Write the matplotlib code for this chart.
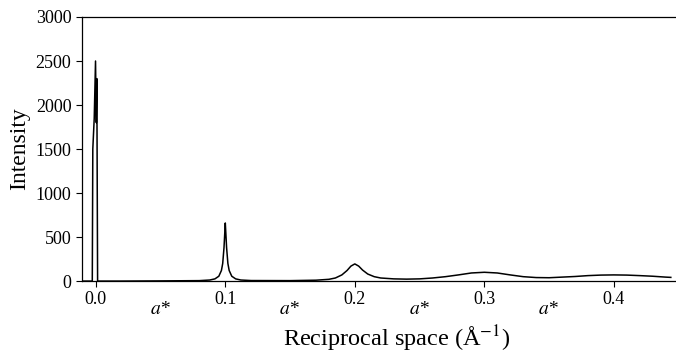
import matplotlib
matplotlib.use('Agg')
import matplotlib.pyplot as plt
import matplotlib.transforms as mtransforms

plt.rcParams['font.family'] = ['Liberation Serif', 'DejaVu Serif']
plt.rcParams['mathtext.fontset'] = 'stix'

# reciprocal space (1/A) and intensity
q = [-0.0108, -0.0027, -0.0023, -0.0012, -0.0002, 0.0004, 0.0008, 0.0014,
     0.020, 0.050, 0.080, 0.088, 0.092, 0.095, 0.097, 0.098, 0.099, 0.0995,
     0.100, 0.1005, 0.101, 0.102, 0.103, 0.105, 0.108, 0.112, 0.120, 0.150,
     0.170, 0.180, 0.185, 0.190, 0.194, 0.197, 0.200, 0.203, 0.206, 0.210,
     0.215, 0.220, 0.230, 0.240, 0.250, 0.260, 0.270, 0.280, 0.290, 0.300,
     0.310, 0.320, 0.330, 0.340, 0.350, 0.360, 0.370, 0.380, 0.390, 0.400,
     0.410, 0.420, 0.430, 0.440, 0.444]
intensity = [0, 0, 1500, 1850, 2500, 1800, 2300, 0,
             0, 2, 5, 12, 25, 55, 120, 200, 380, 520,
             660, 520, 380, 200, 120, 55, 25, 12, 6, 5,
             10, 20, 35, 70, 120, 170, 195, 170, 125, 80,
             50, 35, 25, 22, 25, 35, 50, 70, 92, 100,
             92, 70, 50, 40, 38, 45, 52, 62, 68, 70,
             68, 62, 55, 45, 42]

xticks = [0.0, 0.1, 0.2, 0.3, 0.4]
xticklabels = ['0.0', '0.1', '0.2', '0.3', '0.4']
yticks = [0, 500, 1000, 1500, 2000, 2500, 3000]
astar_pos = [0.05, 0.15, 0.25, 0.35]

fig = plt.figure(figsize=(6.76, 3.54), dpi=100)
ax = fig.add_axes([0.121, 0.206, 0.879, 0.746])
ax.plot(q, intensity, color='black', lw=1.1)

ax.set_xlim(-0.0108, 0.448)
ax.set_ylim(0, 3000)
ax.set_xticks(xticks)
ax.set_xticklabels(xticklabels)
ax.set_yticks(yticks)
ax.tick_params(direction='out', length=4, width=0.8, labelsize=13, colors='black')
ax.spines['right'].set_visible(False)
for s in ['left', 'top', 'bottom']:
    ax.spines[s].set_linewidth(0.9)

trans = mtransforms.blended_transform_factory(ax.transData, ax.transAxes)
for xp in astar_pos:
    ax.text(xp, -0.108, r'$a$*', transform=trans, ha='center', va='center',
            fontsize=14, style='italic')

ax.set_ylabel('Intensity', fontsize=17, labelpad=4)
ax.set_xlabel(r'Reciprocal space (Å$^{-1}$)', fontsize=17.5, labelpad=11)
ax.xaxis.label.set_x(0.53)

fig.savefig('out.png', dpi=100)
